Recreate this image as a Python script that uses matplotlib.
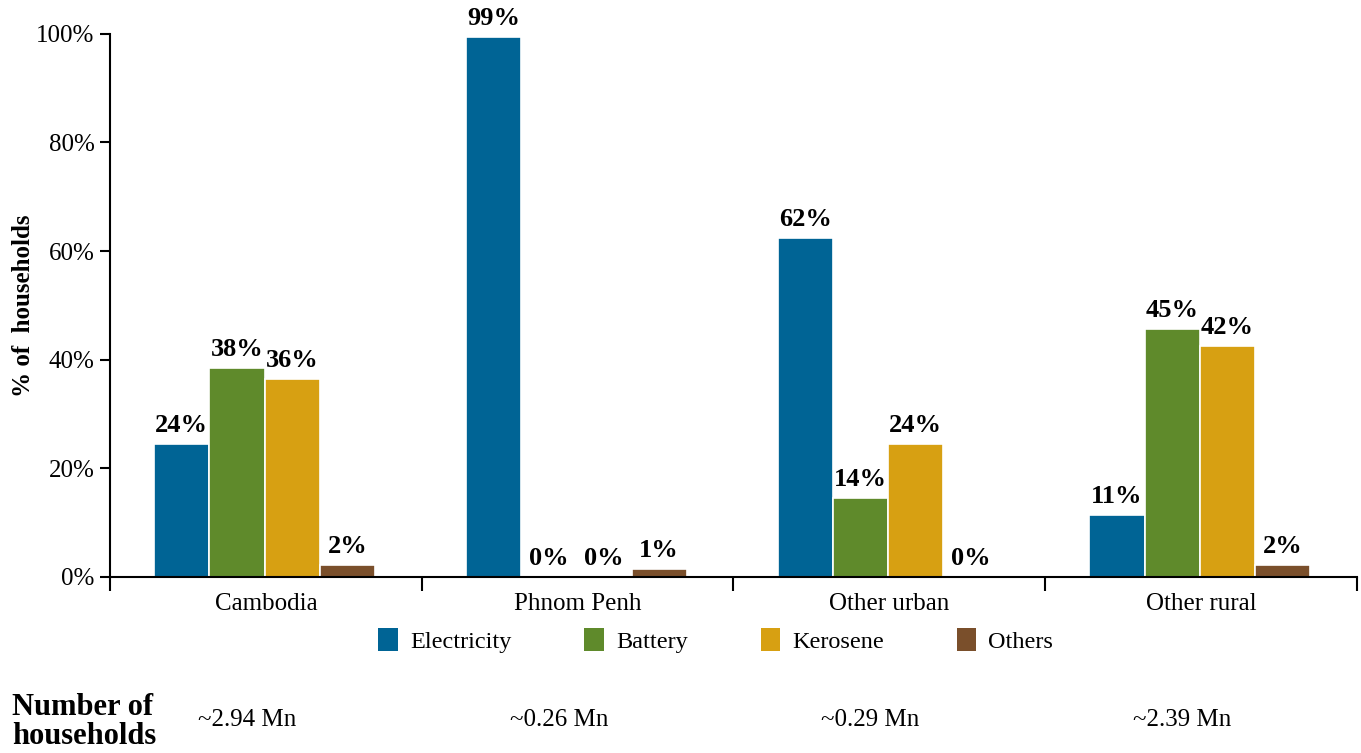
import numpy as np
import matplotlib.pyplot as plt
from matplotlib.patches import Patch

plt.rcParams['font.family'] = ['Liberation Serif', 'DejaVu Serif']

regions = ['Cambodia', 'Phnom Penh', 'Other urban', 'Other rural']
sources = ['Electricity', 'Battery', 'Kerosene', 'Others']
colors = ['#006495', '#5f8a2b', '#d7a012', '#7a4f2b']

# share of households (%) per lighting source, per region
electricity = [24.5, 99.4, 62.4, 11.4]
battery = [38.5, 0.0, 14.5, 45.7]
kerosene = [36.5, 0.0, 24.5, 42.5]
others = [2.2, 1.5, 0.0, 2.2]

lab_electricity = ['24%', '99%', '62%', '11%']
lab_battery = ['38%', '0%', '14%', '45%']
lab_kerosene = ['36%', '0%', '24%', '42%']
lab_others = ['2%', '1%', '0%', '2%']

households = ['~2.94 Mn', '~0.26 Mn', '~0.29 Mn', '~2.39 Mn']

series = [electricity, battery, kerosene, others]
labels = [lab_electricity, lab_battery, lab_kerosene, lab_others]

fig = plt.figure(figsize=(13.61, 7.53), dpi=100)
ax = fig.add_axes([0.0808, 0.234, 0.9162, 0.7211])

x = np.arange(len(regions)) + 0.5
w = 0.177
for k, (vals, labs) in enumerate(zip(series, labels)):
    pos = x + (k - 1.5) * w - 0.004
    bars = ax.bar(pos, vals, width=w, color=colors[k], edgecolor='white', linewidth=1.2)
    ax.bar_label(bars, labels=labs, padding=5, fontsize=19, fontweight='bold', clip_on=False)

ax.set_xlim(0, 4)
ax.set_ylim(0, 100)
ax.set_yticks([0, 20, 40, 60, 80, 100])
ax.set_yticklabels(['0%', '20%', '40%', '60%', '80%', '100%'])
ax.set_xticks([0, 1, 2, 3, 4])
ax.set_xticklabels([])
ax.set_xticks(x, minor=True)
ax.set_xticklabels(regions, minor=True)
ax.tick_params(axis='x', which='minor', length=0, pad=12, labelsize=18)
ax.tick_params(axis='x', which='major', length=10, width=1.5, direction='out')
ax.tick_params(axis='y', length=7, width=1.5, labelsize=18, pad=4)

for s in ['top', 'right']:
    ax.spines[s].set_visible(False)
for s in ['left', 'bottom']:
    ax.spines[s].set_linewidth(1.5)

ax.set_ylabel('% of  households', fontsize=18, fontweight='bold')
ax.yaxis.set_label_coords(-0.06, 0.5)

handles = [Patch(facecolor=c, edgecolor='none') for c in colors]
fig.legend(handles, sources, loc='center', bbox_to_anchor=(0.526, 0.15), ncol=4,
           frameon=False, fontsize=17.5, handlelength=0.8, handleheight=1.1,
           handletextpad=0.5, columnspacing=3.0)

for xi, h in zip(x, households):
    ax.text(xi - 0.06, -0.263, h, transform=ax.get_xaxis_transform(),
            ha='center', va='center', fontsize=18)

fig.text(12 / 1361, 0.041, 'Number of\nhouseholds', ha='left', va='center',
         fontsize=22, fontweight='bold', linespacing=1.0)

fig.savefig('out.png', dpi=100)
